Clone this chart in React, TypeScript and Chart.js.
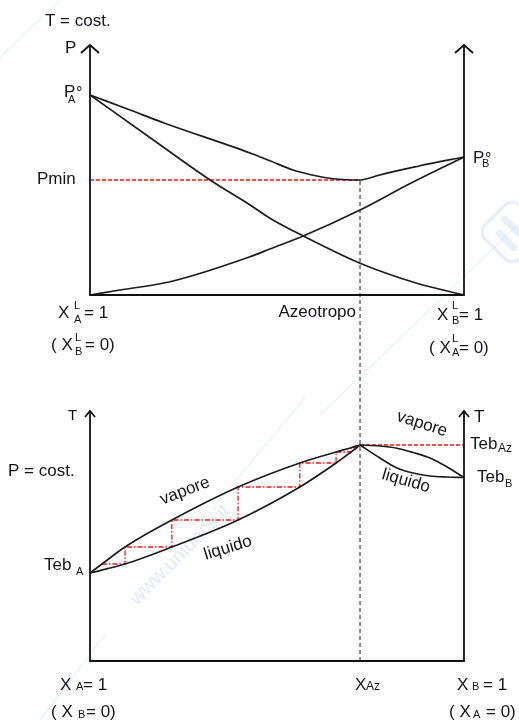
import React, { useEffect, useRef } from 'react';
import { Chart, registerables } from 'chart.js';

Chart.register(...registerables);

// Composition axis: mole fraction of B (0 = pure A, 1 = pure B)
const X_AZ = 0.722;

// Upper diagram: pressures at constant T (arbitrary units)
const P_A0 = 80;
const P_B0 = 55.2;
const P_MIN = 46;
const totalPX = [0, 0.1, 0.2, 0.428, 0.481, 0.543, 0.607, 0.65, X_AZ, 0.745, 0.767, 0.88, 1];
const totalPY = [P_A0, 74.4, 68.7, 56.8, 53.7, 50, 47.6, 46.5, P_MIN, 46.7, 47.7, 51.6, P_B0];
const partialAX = [0, 0.16, 0.321, 0.428, 0.481, 0.57, X_AZ, 0.874, 1];
const partialAY = [P_A0, 63, 46, 36, 30.7, 23.6, 12.7, 4.7, 0];
const partialBX = [0, 0.08, 0.214, 0.428, 0.481, 0.57, X_AZ, 0.856, 1];
const partialBY = [0, 2, 5.3, 15.3, 18.4, 23.6, 34, 44.6, P_B0];

// Lower diagram: boiling temperatures at constant P (arbitrary units)
const T_A = 35.2;
const T_AZ = 86.4;
const T_B = 73.4;
const vaporLX = [0, 0.032, 0.0936, 0.219, 0.396, 0.561, 0.658, 0.698, X_AZ];
const vaporLY = [T_A, 38.8, 45.6, 56.4, 69.6, 79.2, 83.6, 85.3, T_AZ];
const liquidLX = [0, 0.0936, 0.219, 0.396, 0.561, 0.658, 0.698, 0.713, X_AZ];
const liquidLY = [T_A, 38.8, 45.6, 56.4, 69.6, 79.2, 83.6, 85.3, T_AZ];
const vaporRX = [X_AZ, 0.775, 0.821, 0.864, 0.909, 0.955, 1];
const vaporRY = [T_AZ, 86.0, 85.1, 83.4, 81.2, 77.6, T_B];
const liquidRX = [X_AZ, 0.775, 0.821, 0.864, 0.909, 0.955, 1];
const liquidRY = [T_AZ, 81.2, 77.2, 75.2, 74.0, 73.6, T_B];

// Distillation stages (staircase between vapour and liquid curves)
const stairX = [0.032, 0.0936, 0.0936, 0.219, 0.219, 0.396, 0.396, 0.561, 0.561, 0.658, 0.658, 0.698, 0.698, 0.713, 0.713];
const stairY = [38.8, 38.8, 45.6, 45.6, 56.4, 56.4, 69.6, 69.6, 79.2, 79.2, 83.6, 83.6, 85.3, 85.3, 86.0];

// Both diagrams share one plot area: the gap between them in axis units
const PANEL_TOP = 100;
const GAP = 46.4;

const FONT = '"Liberation Sans", Arial, Helvetica, sans-serif';
const INK = '#14141c';
const RED = '#ff1010';

const pts = (xs: number[], ys: number[]) => xs.map((x, i) => ({ x, y: ys[i] }));

const curve = (xs: number[], ys: number[], yAxisID: string) => ({
  data: pts(xs, ys),
  yAxisID,
  showLine: true,
  pointRadius: 0,
  borderColor: '#1c1c1c',
  borderWidth: 1.7,
  cubicInterpolationMode: 'monotone' as const,
  fill: false,
  clip: false as const,
});

type Part = { t: string; x: number; y: number; s?: number; align?: CanvasTextAlign };

function drawParts(ctx: CanvasRenderingContext2D, parts: Part[]) {
  ctx.fillStyle = INK;
  ctx.textBaseline = 'alphabetic';
  for (const p of parts) {
    ctx.font = `${p.s ?? 17}px ${FONT}`;
    ctx.textAlign = p.align ?? 'left';
    ctx.fillText(p.t, p.x, p.y);
  }
}

function drawRotated(ctx: CanvasRenderingContext2D, t: string, cx: number, cy: number, deg: number) {
  ctx.save();
  ctx.translate(cx, cy);
  ctx.rotate((deg * Math.PI) / 180);
  ctx.fillStyle = INK;
  ctx.font = `17px ${FONT}`;
  ctx.textAlign = 'center';
  ctx.textBaseline = 'middle';
  ctx.fillText(t, 0, 0);
  ctx.restore();
}

const diagramPlugin = {
  id: 'diagram',
  beforeDraw(chart: any) {
    const ctx: CanvasRenderingContext2D = chart.ctx;
    ctx.save();
    ctx.fillStyle = '#ffffff';
    ctx.fillRect(0, 0, chart.width, chart.height);
    // faint watermark
    ctx.strokeStyle = 'rgba(170,200,235,0.4)';
    ctx.lineWidth = 1;
    const lines = [
      [0, 57, 60, 0],
      [320, 415, 519, 224],
      [215, 505, 305, 398],
      [40, 720, 105, 635],
    ];
    for (const [a, b, c, d] of lines) {
      ctx.beginPath();
      ctx.moveTo(a, b);
      ctx.lineTo(c, d);
      ctx.stroke();
    }
    ctx.save();
    ctx.translate(180, 555);
    ctx.rotate(-Math.PI / 4);
    ctx.fillStyle = 'rgba(165,195,230,0.35)';
    ctx.font = `20px ${FONT}`;
    ctx.textAlign = 'center';
    ctx.textBaseline = 'middle';
    ctx.fillText('www.unidocs.it', 0, 0);
    ctx.restore();
    ctx.save();
    ctx.translate(512, 232);
    ctx.rotate(-Math.PI / 4);
    ctx.strokeStyle = 'rgba(175,205,235,0.3)';
    ctx.lineWidth = 3;
    ctx.beginPath();
    ctx.roundRect(-24, -24, 48, 48, 10);
    ctx.stroke();
    ctx.lineCap = 'round';
    ctx.lineWidth = 7;
    ctx.strokeStyle = 'rgba(185,212,238,0.35)';
    ctx.beginPath();
    ctx.moveTo(-10, -8);
    ctx.lineTo(-10, 12);
    ctx.moveTo(4, -14);
    ctx.lineTo(4, 12);
    ctx.stroke();
    ctx.restore();
    ctx.restore();
  },
  afterDatasetsDraw(chart: any) {
    const ctx: CanvasRenderingContext2D = chart.ctx;
    const sx = chart.scales.x;
    const sp = chart.scales.yP;
    const st = chart.scales.yT;
    const X = (v: number) => sx.getPixelForValue(v);
    const YP = (v: number) => sp.getPixelForValue(v);
    const YT = (v: number) => st.getPixelForValue(v);
    const x0 = X(0);
    const x1 = X(1);

    ctx.save();
    ctx.strokeStyle = '#121212';
    ctx.lineWidth = 1.8;
    ctx.lineCap = 'butt';
    ctx.setLineDash([]);
    const frame = (top: number, bottom: number, head: number, headH: number) => {
      ctx.beginPath();
      ctx.moveTo(x0, top);
      ctx.lineTo(x0, bottom);
      ctx.lineTo(x1, bottom);
      ctx.lineTo(x1, top);
      ctx.stroke();
      for (const ax of [x0, x1]) {
        ctx.beginPath();
        ctx.moveTo(ax - head, top + headH);
        ctx.lineTo(ax, top);
        ctx.lineTo(ax + head, top + headH);
        ctx.stroke();
      }
    };
    frame(YP(PANEL_TOP), YP(0), 9, 8);
    frame(YT(PANEL_TOP), YT(0), 5, 6);
    ctx.restore();

    // Upper diagram labels
    const pA = YP(P_A0);
    const pB = YP(P_B0);
    const pm = YP(P_MIN);
    const pb = YP(0);
    drawParts(ctx, [
      { t: 'T = cost.', x: x0 - 45, y: YP(PANEL_TOP) - 19 },
      { t: 'P', x: x0 - 25, y: YP(PANEL_TOP) + 8 },
      { t: 'P', x: x0 - 26, y: pA + 2 },
      { t: 'A', x: x0 - 22, y: pA + 8, s: 11 },
      { t: '°', x: x0 - 14, y: pA + 3, s: 16 },
      { t: 'Pmin', x: x0 - 53, y: pm + 4 },
      { t: 'P', x: x1 + 9, y: pB + 6 },
      { t: 'B', x: x1 + 18, y: pB + 10, s: 11 },
      { t: '°', x: x1 + 21, y: pB + 7, s: 16 },
      { t: 'Azeotropo', x: X(X_AZ) - 4, y: pb + 22, align: 'right' },
      // x_A^L = 1
      { t: 'X', x: x0 - 32, y: pb + 23 },
      { t: 'L', x: x0 - 16, y: pb + 14, s: 11 },
      { t: 'A', x: x0 - 16, y: pb + 28, s: 11 },
      { t: '= 1', x: x0 - 6, y: pb + 23 },
      { t: '( X', x: x0 - 39, y: pb + 55 },
      { t: 'L', x: x0 - 15, y: pb + 46, s: 11 },
      { t: 'B', x: x0 - 15, y: pb + 60, s: 11 },
      { t: '= 0)', x: x0 - 5, y: pb + 55 },
      // x_B^L = 1
      { t: 'X', x: x1 - 27, y: pb + 25 },
      { t: 'L', x: x1 - 12, y: pb + 14, s: 11 },
      { t: 'B', x: x1 - 12, y: pb + 29, s: 11 },
      { t: '= 1', x: x1 - 5, y: pb + 25 },
      { t: '( X', x: x1 - 35, y: pb + 58 },
      { t: 'L', x: x1 - 12, y: pb + 47, s: 11 },
      { t: 'A', x: x1 - 12, y: pb + 61, s: 11 },
      { t: '= 0)', x: x1 - 5, y: pb + 58 },
    ]);

    // Lower diagram labels
    const tA = YT(T_A);
    const tAz = YT(T_AZ);
    const tB = YT(T_B);
    const tb = YT(0);
    const tt = YT(PANEL_TOP);
    drawParts(ctx, [
      { t: 'T', x: x0 - 22, y: tt + 9, s: 15 },
      { t: 'T', x: x1 + 10, y: tt + 11 },
      { t: 'P = cost.', x: x0 - 82, y: tt + 65 },
      { t: 'Teb', x: x0 - 46, y: tA - 3 },
      { t: 'A', x: x0 - 14, y: tA + 2, s: 11 },
      { t: 'Teb', x: x1 + 6, y: tAz + 4 },
      { t: 'Az', x: x1 + 34, y: tAz + 7, s: 12 },
      { t: 'Teb', x: x1 + 13, y: tB + 4 },
      { t: 'B', x: x1 + 41, y: tB + 9, s: 11 },
      // bottom composition labels
      { t: 'X', x: x0 - 30, y: tb + 29 },
      { t: 'A', x: x0 - 14, y: tb + 29, s: 11 },
      { t: '= 1', x: x0 - 7, y: tb + 29 },
      { t: '( X', x: x0 - 39, y: tb + 56 },
      { t: 'B', x: x0 - 12, y: tb + 57, s: 11 },
      { t: '= 0)', x: x0 - 4, y: tb + 56 },
      { t: 'X', x: X(X_AZ) - 5, y: tb + 29 },
      { t: 'Az', x: X(X_AZ) + 6, y: tb + 29, s: 12 },
      { t: 'X', x: x1 - 7, y: tb + 29 },
      { t: 'B', x: x1 + 8, y: tb + 29, s: 11 },
      { t: '= 1', x: x1 + 19, y: tb + 29 },
      { t: '( X', x: x1 - 15, y: tb + 56 },
      { t: 'A', x: x1 + 9, y: tb + 57, s: 11 },
      { t: '= 0)', x: x1 + 22, y: tb + 56 },
    ]);
    drawRotated(ctx, 'vapore', 185, 491, -21);
    drawRotated(ctx, 'liquido', 228, 548, -17);
    drawRotated(ctx, 'vapore', 422, 424, 18);
    drawRotated(ctx, 'liquido', 406, 481, 16);
  },
};

export default function App() {
  const ref = useRef<HTMLCanvasElement>(null);

  useEffect(() => {
    if (!ref.current) return;
    const chart = new Chart(ref.current, {
      type: 'scatter',
      data: {
        datasets: [
          curve(totalPX, totalPY, 'yP'),
          curve(partialAX, partialAY, 'yP'),
          curve(partialBX, partialBY, 'yP'),
          {
            data: pts([0, X_AZ], [P_MIN, P_MIN]),
            yAxisID: 'yP',
            showLine: true,
            pointRadius: 0,
            borderColor: RED,
            borderWidth: 1.3,
            borderDash: [4, 2],
            clip: false,
          },
          {
            // azeotrope composition connecting both diagrams
            data: pts([X_AZ, X_AZ], [0, PANEL_TOP + GAP + P_MIN]),
            yAxisID: 'yT',
            showLine: true,
            pointRadius: 0,
            borderColor: '#333333',
            borderWidth: 1.1,
            borderDash: [4, 3],
            clip: false,
          },
          curve(vaporLX, vaporLY, 'yT'),
          curve(liquidLX, liquidLY, 'yT'),
          curve(vaporRX, vaporRY, 'yT'),
          curve(liquidRX, liquidRY, 'yT'),
          {
            data: pts([X_AZ, 1], [T_AZ, T_AZ]),
            yAxisID: 'yT',
            showLine: true,
            pointRadius: 0,
            borderColor: RED,
            borderWidth: 1.3,
            borderDash: [4, 2],
            clip: false,
          },
          {
            data: pts(stairX, stairY),
            yAxisID: 'yT',
            showLine: true,
            pointRadius: 0,
            borderColor: RED,
            borderWidth: 1.3,
            borderDash: [5, 2, 1.5, 2],
            tension: 0,
            clip: false,
          },
        ] as any,
      },
      options: {
        animation: false,
        responsive: false,
        devicePixelRatio: 1,
        layout: { padding: { left: 90, right: 55, top: 45, bottom: 59 } },
        plugins: { legend: { display: false }, tooltip: { enabled: false } },
        events: [],
        scales: {
          x: { type: 'linear', min: 0, max: 1, display: false },
          yP: { type: 'linear', position: 'left', min: -(PANEL_TOP + GAP), max: PANEL_TOP, display: false },
          yT: { type: 'linear', position: 'left', min: 0, max: 2 * PANEL_TOP + GAP, display: false },
        },
      },
      plugins: [diagramPlugin],
    });
    return () => chart.destroy();
  }, []);

  return (
    <div style={{ position: 'absolute', left: 0, top: 0, width: 519, height: 720, background: '#fff' }}>
      <canvas ref={ref} width={519} height={720} style={{ display: 'block' }} />
    </div>
  );
}
